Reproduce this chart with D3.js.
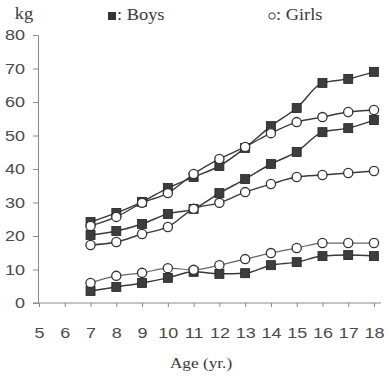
<!DOCTYPE html>
<html><head><meta charset="utf-8">
<script src="https://cdn.jsdelivr.net/npm/d3@7"></script>
<style>body{margin:0;background:#fff}</style>
</head><body>
<svg id="c" width="386" height="376"></svg>
<script>
const ages = [7,8,9,10,11,12,13,14,15,16,17,18];
const boysHigh = [24.2,26.9,30.2,34.3,37.6,40.9,46.3,52.8,58.2,65.7,66.9,69.0];
const boysMid  = [20.3,21.5,23.6,26.6,28.1,32.8,37.0,41.5,45.1,51.0,52.2,54.6];
const boysLow  = [3.6,4.8,6.0,7.5,9.3,8.7,8.9,11.3,12.2,14.0,14.3,14.0];
const girlsHigh = [23.0,25.7,29.9,32.8,38.5,43.0,46.6,50.7,54.0,55.5,57.0,57.6];
const girlsMid  = [17.3,18.2,20.6,22.7,28.1,29.9,33.1,35.5,37.6,38.2,38.8,39.4];
const girlsLow  = [6.0,8.1,9.0,10.4,9.9,11.3,13.1,14.9,16.4,17.9,17.9,17.9];
const xTicks = [5,6,7,8,9,10,11,12,13,14,15,16,17,18];
const yTicks = [0,10,20,30,40,50,60,70,80];

const svg = d3.select("#c");
const x = d3.scaleLinear().domain([5,18]).range([39,374]);
const y = d3.scaleLinear().domain([0,80]).range([303,35]);
const axisCol = "#888";
const numFont = "'Liberation Sans', Arial, sans-serif";
const serif = "'Liberation Serif', 'Times New Roman', serif";

// y axis
const ya = svg.append("g").attr("transform","translate(38,0)")
  .call(d3.axisLeft(y).tickValues(yTicks).tickSize(5).tickSizeOuter(0));
ya.select(".domain").attr("stroke",axisCol).attr("stroke-width",1);
ya.selectAll(".tick line").attr("stroke",axisCol);
ya.selectAll(".tick text").attr("font-family",numFont).attr("font-size",15)
  .attr("fill","#4a4a4a").attr("x",-13/1.2).attr("transform","scale(1.2,1)");

// x axis
svg.append("line").attr("x1",33).attr("x2",381).attr("y1",303).attr("y2",303)
  .attr("stroke",axisCol).attr("stroke-width",1);
const xa = svg.append("g").attr("transform","translate(0,303)")
  .call(d3.axisBottom(x).tickValues(xTicks).tickSize(4).tickSizeOuter(0));
xa.select(".domain").remove();
xa.selectAll(".tick line").attr("stroke",axisCol);
xa.selectAll(".tick text").attr("font-family",numFont).attr("font-size",15)
  .attr("fill","#4a4a4a").attr("y",24).attr("transform","scale(1.2,1)");

// labels
function stretchText(cx, by, txt, size, sx, anchor){
  svg.append("text").attr("transform",`translate(${cx},${by}) scale(${sx},1)`)
    .attr("text-anchor",anchor||"middle").attr("font-family",serif)
    .attr("font-size",size).attr("fill","#3a3a3a").text(txt);
}
stretchText(24,19,"kg",16,1.15);
stretchText(201,368,"Age (yr.)",15,1.15);
// legend
svg.append("rect").attr("x",108).attr("y",12).attr("width",8).attr("height",8).attr("fill","#333");
stretchText(117,20,": Boys",16,1.15,"start");
svg.append("circle").attr("cx",272).attr("cy",16).attr("r",3.2).attr("fill","#fff").attr("stroke","#444").attr("stroke-width",1);
stretchText(276,20,": Girls",16,1.15,"start");

const line = d3.line().x((d,i)=>x(ages[i])).y(d=>y(d)).curve(d3.curveMonotoneX);

function series(vals, col, w){
  svg.append("path").attr("d",line(vals)).attr("fill","none")
    .attr("stroke",col).attr("stroke-width",w);
}
function marks(vals, type){
  const g = svg.append("g");
  if(type==="sq"){
    g.selectAll("rect").data(vals).join("rect")
      .attr("x",(d,i)=>x(ages[i])-4.5).attr("y",d=>y(d)-4.5)
      .attr("width",9).attr("height",9).attr("fill","#3d3d3d").attr("stroke","#222").attr("stroke-width",0.8);
  } else {
    g.selectAll("circle").data(vals).join("circle")
      .attr("cx",(d,i)=>x(ages[i])).attr("cy",d=>y(d)).attr("r",4.6)
      .attr("fill","#fff").attr("stroke","#333").attr("stroke-width",1.3);
  }
}
series(boysHigh,"#3a3a3a",1.5); series(boysMid,"#3a3a3a",1.5); series(boysLow,"#3a3a3a",1.5);
series(girlsHigh,"#3a3a3a",1.4); series(girlsMid,"#3a3a3a",1.4); series(girlsLow,"#666",1.2);
marks(boysHigh,"sq"); marks(boysMid,"sq"); marks(boysLow,"sq");
marks(girlsHigh,"c"); marks(girlsMid,"c"); marks(girlsLow,"c");
</script>
</body></html>
